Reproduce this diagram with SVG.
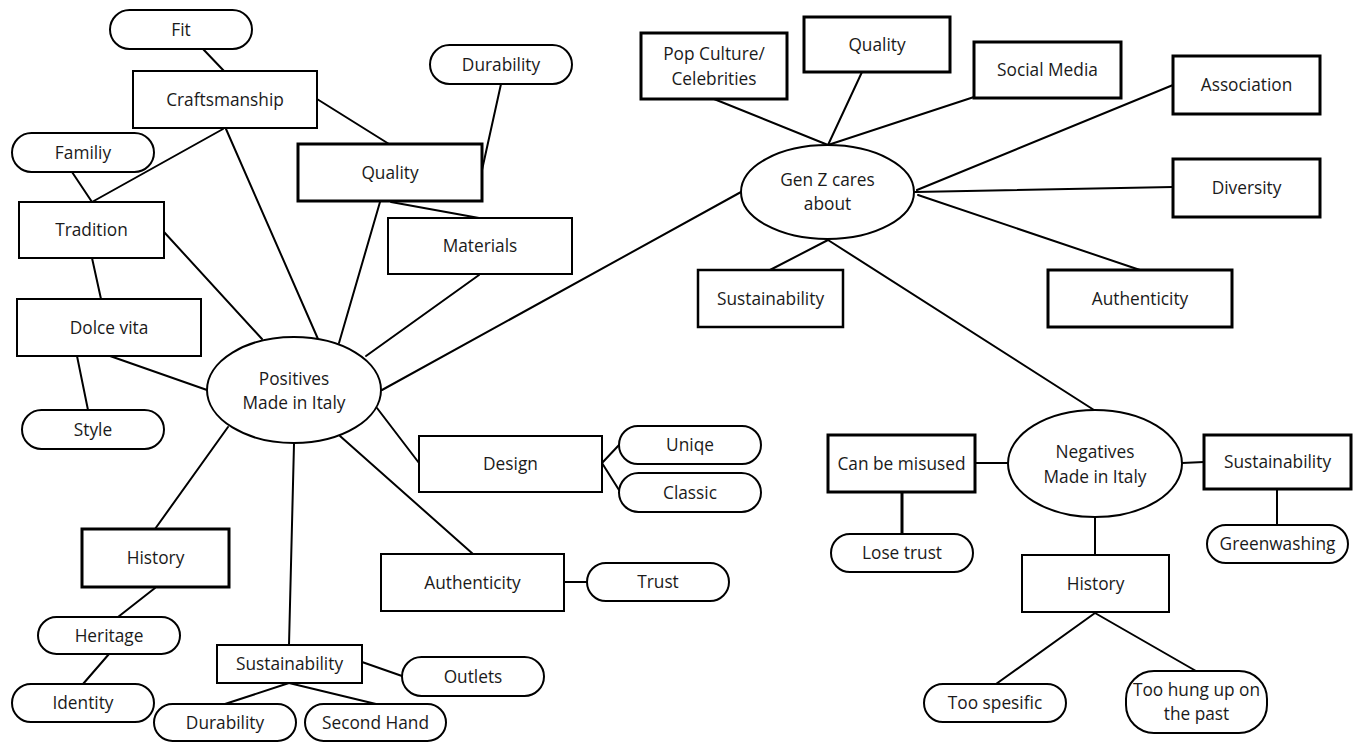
<svg xmlns="http://www.w3.org/2000/svg" width="1359" height="742" viewBox="0 0 1359 742">
<style>
.bg{fill:#fff}
.c line{stroke:#000;stroke-width:2;stroke-linecap:round}
.b{fill:#fff;stroke:#000;stroke-width:2}
.t{fill:#fff;stroke:#000;stroke-width:3}
.m{fill:#fff;stroke:#000;stroke-width:2.5}
text{font-family:"Open Sans","Noto Sans","Liberation Sans",sans-serif;font-size:17.3px;fill:#1a1a1a;text-anchor:middle}
</style>
<rect class="bg" x="0" y="0" width="1359" height="742"/>
<g id="connectors" class="c">
<line x1="203" y1="49" x2="224" y2="71"/>
<line x1="223" y1="129" x2="92" y2="202"/>
<line x1="72" y1="172" x2="92" y2="202"/>
<line x1="226" y1="129" x2="318" y2="339"/>
<line x1="317" y1="99" x2="389" y2="144"/>
<line x1="501" y1="84" x2="482" y2="170"/>
<line x1="391" y1="202" x2="479" y2="218"/>
<line x1="380" y1="202" x2="339" y2="343"/>
<line x1="479" y1="275" x2="366" y2="356"/>
<line x1="92" y1="258" x2="101" y2="299"/>
<line x1="164" y1="232" x2="262" y2="339"/>
<line x1="77" y1="356" x2="88" y2="410"/>
<line x1="110" y1="356" x2="207" y2="390"/>
<line x1="382" y1="390" x2="741" y2="192"/>
<line x1="377" y1="408" x2="419" y2="463"/>
<line x1="340" y1="436" x2="473" y2="554"/>
<line x1="602" y1="463" x2="619" y2="445"/>
<line x1="602" y1="463" x2="619" y2="490"/>
<line x1="564" y1="582" x2="587" y2="582"/>
<line x1="228" y1="427" x2="155" y2="529"/>
<line x1="155" y1="588" x2="118" y2="617"/>
<line x1="109" y1="654" x2="83" y2="684"/>
<line x1="294" y1="444" x2="289" y2="645"/>
<line x1="362" y1="662" x2="402" y2="676"/>
<line x1="289" y1="683" x2="225" y2="704"/>
<line x1="289" y1="683" x2="376" y2="704"/>
<line x1="714" y1="99" x2="828" y2="145"/>
<line x1="862" y1="72" x2="828" y2="145"/>
<line x1="974" y1="97" x2="828" y2="145"/>
<line x1="917" y1="190" x2="1173" y2="85"/>
<line x1="915" y1="192" x2="1173" y2="187"/>
<line x1="918" y1="195" x2="1140" y2="270"/>
<line x1="828" y1="240" x2="770" y2="270"/>
<line x1="828" y1="240" x2="1094" y2="410"/>
<line x1="975" y1="463" x2="1008" y2="463"/>
<line x1="902" y1="492" x2="902" y2="534" style="stroke-width:3"/>
<line x1="1182" y1="463" x2="1204" y2="462"/>
<line x1="1277" y1="489" x2="1277" y2="525"/>
<line x1="1095" y1="517" x2="1095" y2="555"/>
<line x1="1095" y1="613" x2="996" y2="684"/>
<line x1="1095" y1="613" x2="1196" y2="671"/>
</g>
<g id="fit"><rect class="b" x="110" y="10" width="142" height="39" rx="19.5"/><text x="181" y="36">Fit</text></g>
<g id="craftsmanship"><rect class="b" x="133" y="71" width="184" height="57"/><text x="225" y="105.5">Craftsmanship</text></g>
<g id="familiy"><rect class="b" x="12" y="133" width="142" height="39" rx="19.5"/><text x="83" y="158.5">Familiy</text></g>
<g id="tradition"><rect class="b" x="19" y="202" width="145" height="56"/><text x="91.5" y="236">Tradition</text></g>
<g id="quality1"><rect class="t" x="298" y="144" width="184" height="57"/><text x="390" y="178.5">Quality</text></g>
<g id="durability1"><rect class="b" x="430" y="45" width="142" height="39" rx="19.5"/><text x="501" y="70.5">Durability</text></g>
<g id="materials"><rect class="b" x="388" y="218" width="184" height="56"/><text x="480" y="252">Materials</text></g>
<g id="dolcevita"><rect class="b" x="17" y="299" width="184" height="57"/><text x="109" y="333.5">Dolce vita</text></g>
<g id="style"><rect class="b" x="22" y="410" width="142" height="39" rx="19.5"/><text x="93" y="435.5">Style</text></g>
<g id="positives"><ellipse class="b" cx="294" cy="390" rx="87" ry="53"/><text x="294" y="385">Positives</text><text x="294" y="409">Made in Italy</text></g>
<g id="design"><rect class="b" x="419" y="436" width="183" height="56"/><text x="510.5" y="470">Design</text></g>
<g id="uniqe"><rect class="b" x="619" y="426" width="142" height="38" rx="19"/><text x="690" y="451">Uniqe</text></g>
<g id="classic"><rect class="b" x="619" y="473" width="142" height="39" rx="19.5"/><text x="690" y="498.5">Classic</text></g>
<g id="authenticity1"><rect class="b" x="381" y="554" width="183" height="57"/><text x="472.5" y="588.5">Authenticity</text></g>
<g id="trust"><rect class="b" x="587" y="563" width="142" height="38" rx="19"/><text x="658" y="588">Trust</text></g>
<g id="history1"><rect class="t" x="82" y="529" width="147" height="58"/><text x="155.5" y="564">History</text></g>
<g id="heritage"><rect class="b" x="38" y="617" width="142" height="37" rx="18.5"/><text x="109" y="641.5">Heritage</text></g>
<g id="identity"><rect class="b" x="12" y="684" width="142" height="38" rx="19"/><text x="83" y="709">Identity</text></g>
<g id="sustainability1"><rect class="b" x="217" y="645" width="145" height="38"/><text x="289.5" y="670">Sustainability</text></g>
<g id="outlets"><rect class="b" x="402" y="657" width="142" height="39" rx="19.5"/><text x="473" y="682.5">Outlets</text></g>
<g id="durability2"><rect class="b" x="154" y="704" width="142" height="37" rx="18.5"/><text x="225" y="728.5">Durability</text></g>
<g id="secondhand"><rect class="b" x="305" y="704" width="141" height="37" rx="18.5"/><text x="375.5" y="728.5">Second Hand</text></g>
<g id="genz"><ellipse class="b" cx="827.5" cy="192" rx="86.5" ry="47"/><text x="827.5" y="186">Gen Z cares</text><text x="827.5" y="210">about</text></g>
<g id="popculture"><rect class="t" x="641" y="33" width="146" height="66"/><text x="714" y="60">Pop Culture/</text><text x="714" y="85">Celebrities</text></g>
<g id="quality2"><rect class="t" x="804" y="17" width="146" height="55"/><text x="877" y="50.5">Quality</text></g>
<g id="socialmedia"><rect class="t" x="974" y="42" width="147" height="56"/><text x="1047.5" y="76">Social Media</text></g>
<g id="association"><rect class="t" x="1173" y="56" width="147" height="58"/><text x="1246.5" y="91">Association</text></g>
<g id="diversity"><rect class="t" x="1173" y="159" width="147" height="58"/><text x="1246.5" y="194">Diversity</text></g>
<g id="authenticity2"><rect class="t" x="1048" y="270" width="184" height="57"/><text x="1140" y="304.5">Authenticity</text></g>
<g id="sustainability2"><rect class="m" x="698" y="270" width="145" height="57"/><text x="770.5" y="304.5">Sustainability</text></g>
<g id="negatives"><ellipse class="b" cx="1095" cy="463.5" rx="87" ry="53.5"/><text x="1095" y="458">Negatives</text><text x="1095" y="483">Made in Italy</text></g>
<g id="canbemisused"><rect class="t" x="828" y="435" width="147" height="57"/><text x="901.5" y="469.5">Can be misused</text></g>
<g id="losetrust"><rect class="b" x="831" y="534" width="142" height="38" rx="19"/><text x="902" y="559">Lose trust</text></g>
<g id="sustainability3"><rect class="t" x="1204" y="435" width="147" height="54"/><text x="1277.5" y="468">Sustainability</text></g>
<g id="greenwashing"><rect class="b" x="1207" y="525" width="141" height="38" rx="19"/><text x="1277.5" y="550">Greenwashing</text></g>
<g id="history2"><rect class="b" x="1022" y="555" width="147" height="57"/><text x="1095.5" y="589.5">History</text></g>
<g id="toospesific"><rect class="b" x="924" y="684" width="142" height="38" rx="19"/><text x="995" y="709">Too spesific</text></g>
<g id="toohung"><rect class="b" x="1126" y="671" width="141" height="62" rx="28"/><text x="1196.5" y="696">Too hung up on</text><text x="1196.5" y="720">the past</text></g>
</svg>
